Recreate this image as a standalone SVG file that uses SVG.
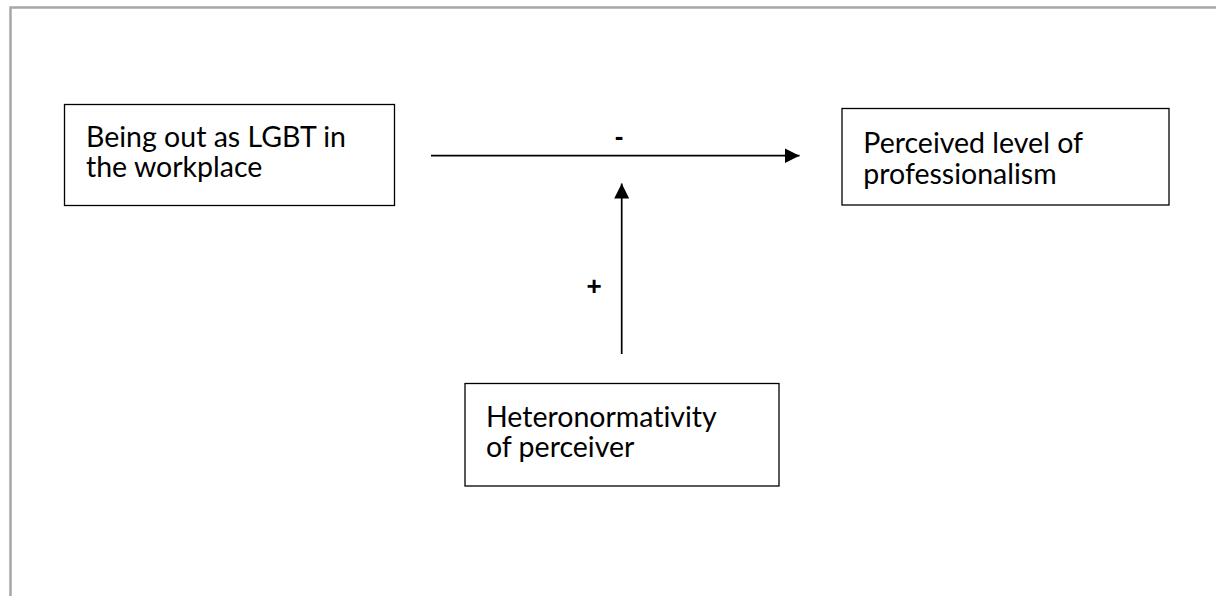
<svg xmlns="http://www.w3.org/2000/svg" width="1216" height="596" viewBox="0 0 1216 596">
  <style>
    .frame { stroke: #a6a6a6; stroke-width: 2.5; fill: none; }
    .box { fill: #ffffff; stroke: #000000; stroke-width: 1.3; }
    .lbl { font-family: Lato, "Open Sans", "Liberation Sans", sans-serif; font-size: 28.5px; fill: #000000; font-variant-ligatures: none; font-feature-settings: "liga" 0, "clig" 0, "dlig" 0; }
    .sign { font-family: "Liberation Sans", Arial, sans-serif; font-size: 26px; font-weight: bold; fill: #000000; text-anchor: middle; }
    .conn { stroke: #000000; stroke-width: 1.7; fill: none; }
  </style>
  <defs>
    <marker id="arrow" markerUnits="userSpaceOnUse" markerWidth="16" markerHeight="16" refX="15" refY="8" orient="auto">
      <path d="M0,0.5 L15,8 L0,15.5 Z" fill="#000000"/>
    </marker>
  </defs>
  <rect width="1216" height="596" fill="#ffffff"/>
  <path class="frame" d="M10.5,596 L10.5,7.5 L1216,7.5"/>

  <g id="connectors">
    <line class="conn" x1="431" y1="155.7" x2="799.5" y2="155.7" marker-end="url(#arrow)"/>
    <line class="conn" x1="621.7" y1="354" x2="621.7" y2="183.5" marker-end="url(#arrow)" stroke="#333333"/>
    <text class="sign" x="619" y="145">-</text>
    <text class="sign" x="594" y="295">+</text>
  </g>

  <g id="node-being-out">
    <rect class="box" x="64.5" y="104.5" width="330" height="101"/>
    <text class="lbl" x="86" y="146.7">Being out as LGBT in</text>
    <text class="lbl" x="86" y="177.3">the workplace</text>
  </g>

  <g id="node-professionalism">
    <rect class="box" x="842" y="108.5" width="327" height="96.5"/>
    <text class="lbl" x="863.3" y="153.3">Perceived level of</text>
    <text class="lbl" x="863.3" y="183.5">professionalism</text>
  </g>

  <g id="node-heteronormativity">
    <rect class="box" x="465" y="383.5" width="314" height="102.5"/>
    <text class="lbl" x="486" y="426.7">Heteronormativity</text>
    <text class="lbl" x="486" y="456.7">of perceiver</text>
  </g>
</svg>
